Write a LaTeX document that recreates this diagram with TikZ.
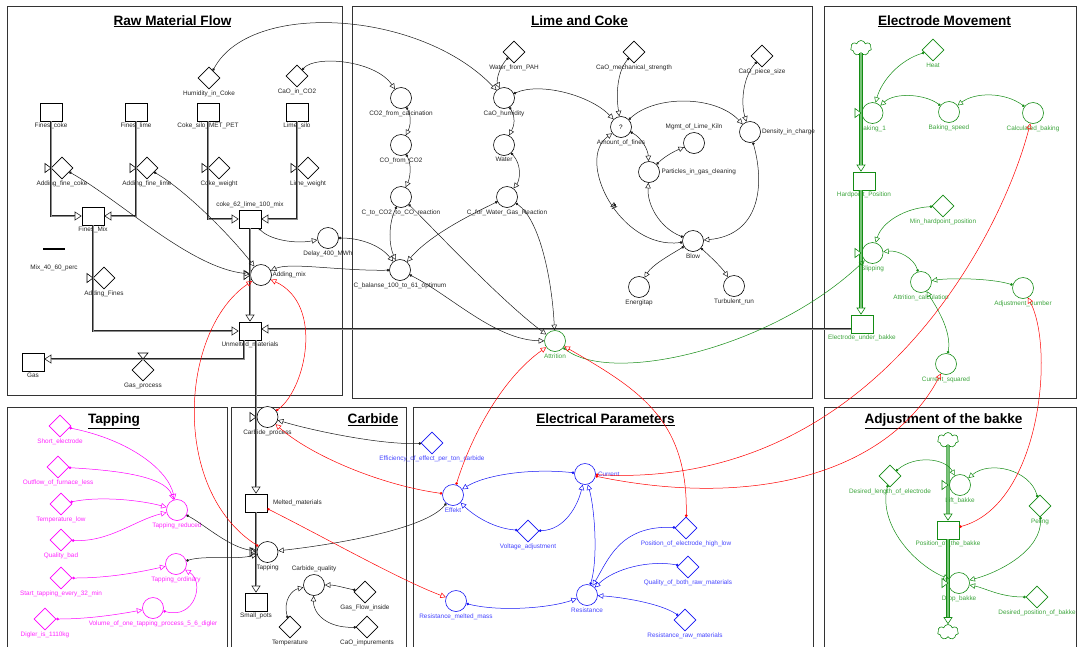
\documentclass[tikz,border=0pt]{standalone}
\usepackage{fontspec}
\setmainfont{Liberation Sans}
\usetikzlibrary{arrows.meta,shapes.geometric,shapes.symbols,calc,decorations.markings}

\definecolor{grn}{RGB}{20,140,20}
\definecolor{grnl}{RGB}{60,165,60}
\definecolor{grnp}{RGB}{120,195,120}
\definecolor{blu}{RGB}{20,20,245}
\definecolor{blul}{RGB}{70,70,255}
\definecolor{mgt}{RGB}{255,0,255}
\definecolor{mgtl}{RGB}{255,40,255}
\definecolor{rd}{RGB}{255,0,0}

\newcommand\labfont{\fontsize{6.4}{7.2}\selectfont}

\begin{document}
\begin{tikzpicture}[x=1pt,y=-1pt,
  every label/.style={font=\labfont, text=black!85, inner sep=0.5pt},
  label distance=1pt,
  aux/.style={circle, draw, fill=white, minimum size=21pt, inner sep=0pt, line width=0.6pt},
  cst/.style={diamond, draw, fill=white, minimum width=22pt, minimum height=22pt, inner sep=0pt, line width=0.6pt},
  stk/.style={rectangle, draw, fill=white, minimum width=22pt, minimum height=18pt, inner sep=0pt, line width=0.6pt},
  cld/.style={cloud, cloud puffs=7, aspect=1.4, draw=grn, fill=white, minimum width=21pt, minimum height=15pt, inner sep=0pt, line width=0.6pt},
  frame/.style={draw=black!80, line width=0.9pt},
  paneltitle/.style={anchor=base, inner sep=0pt, font=\fontsize{13.6}{15}\selectfont\bfseries},
  link/.style={line width=0.5pt, color=black!90, {Circle[length=2.6pt]}-{Triangle[open, length=5.5pt, width=5.5pt]}},
  rlink/.style={link, color=rd},
  glink/.style={link, color=grn},
  blink/.style={link, color=blu},
  mlink/.style={link, color=mgt},
  pipe/.style={line width=2.6pt, draw=black!85, -{Triangle[fill=white, length=7pt, width=9pt, line width=0.6pt]},
    postaction={draw=black!45, line width=0.9pt, -, shorten >=7pt}},
  gpipe/.style={line width=3.4pt, draw=grn, -{Triangle[fill=white, length=7pt, width=9pt, line width=0.6pt]},
    postaction={draw=grnp, line width=1.8pt, -, shorten >=7pt}},
  lg/.style={text=grnl}, lb/.style={text=blul}, lm/.style={text=mgtl},
  g/.style={draw=grn}, b/.style={draw=blu}, m/.style={draw=mgt},
  delaymark/.style={postaction={decorate}, decoration={markings, mark=at position 0.5 with {\draw[line width=0.5pt] (-1.5pt,-3pt) -- (-0.5pt,3pt) (1pt,-3pt) -- (2pt,3pt);}}},
  pics/vr/.style={code={\draw[fill=white, line width=0.6pt] (-6,-4.5) -- (0,0) -- (-6,4.5) -- cycle;}},
  pics/vd/.style={code={\draw[fill=white, line width=0.6pt] (-5,-6) -- (0,0) -- (5,-6) -- cycle;}},
]
\useasboundingbox (0,0) rectangle (1078,646);
\clip (0,0) rectangle (1078,646);
\fill[white] (0,0) rectangle (1078,646);

% ---------- panels ----------
\draw[frame] (7,6) rectangle (342,395);
\draw[frame] (352,6) rectangle (812,398);
\draw[frame] (824,6) rectangle (1076,398);
\draw[frame] (7,407) rectangle (227,660);
\draw[frame] (231,407) rectangle (406,660);
\draw[frame] (413,407) rectangle (813,660);
\draw[frame] (824,407) rectangle (1076,660);

\node[paneltitle] (t1) at (172.5,25) {\underline{Raw Material Flow}};
\node[paneltitle] (t2) at (579.5,25) {\underline{Lime and Coke}};
\node[paneltitle] (t3) at (944.5,25) {\underline{Electrode Movement}};
\node[paneltitle] (t4) at (114,423.5) {\underline{Tapping}};
\node[paneltitle] (t5) at (373,423.5) {\underline{Carbide}};
\node[paneltitle] (t6) at (605.5,423.5) {\underline{Electrical Parameters}};
\node[paneltitle] (t7) at (943.5,423.5) {\underline{Adjustment of the bakke}};

% ---------- raw material flow ----------
\node[stk, label={below:Fines\_coke}] (finescoke) at (51,112) {};
\node[stk, label={below:Fines\_lime}] (fineslime) at (136,112) {};
\node[stk, label={below:Coke\_silo\_MET\_PET}] (cokesilo) at (208,112) {};
\node[stk, label={below:Lime\_silo}] (limesilo) at (297,112) {};
\node[cst, label={below:Humidity\_in\_Coke}] (humcoke) at (209,78) {};
\node[cst, label={below:CaO\_in\_CO2}] (caoco2) at (297,76) {};
\node[cst, label={below:Adding\_fine\_coke}] (addcoke) at (62,168) {};
\node[cst, label={below:Adding\_fine\_lime}] (addlime) at (147,168) {};
\node[cst, label={below:Coke\_weight}] (cokew) at (219,168) {};
\node[cst, label={below:Lime\_weight}] (limew) at (308,168) {};
\node[stk, label={below:Fines\_Mix}] (finesmix) at (93,216) {};
\node[stk, label={above:coke\_62\_lime\_100\_mix}] (cokemix) at (250,219) {};
\node[fill=black, minimum width=22pt, minimum height=1.3pt, inner sep=0pt,
      label={[label distance=14pt]below:Mix\_40\_60\_perc}] (mixline) at (54,249) {};
\node[cst, label={below:Adding\_Fines}] (addfines) at (104,278) {};
\node[aux, label={[label distance=0pt]right:Adding\_mix}] (addmix) at (261,275) {};
\node[aux, label={below:Delay\_400\_MWh}] (delay) at (328,238) {};
\node[stk, label={below:Unmelted\_materials}] (unmelted) at (250,331) {};
\node[stk, label={below:Gas}] (gas) at (33,362) {};
\node[cst, label={below:Gas\_process}] (gasproc) at (143,370) {};

% ---------- lime and coke ----------
\node[cst, label={below:Water\_from\_PAH}] (waterpah) at (514,52) {};
\node[cst, label={below:CaO\_mechanical\_strength}] (caomech) at (634,52) {};
\node[cst, label={below:CaO\_piece\_size}] (caopiece) at (762,56) {};
\node[aux, label={below:CO2\_from\_calcination}] (co2calc) at (401,98) {};
\node[aux, label={below:CaO\_humidity}] (caohum) at (504,98) {};
\node[aux, font=\labfont, label={below:Amount\_of\_fines}] (fines) at (621,127) {?};
\node[aux, label={[label distance=2pt]above:Mgmt\_of\_Lime\_Kiln}] (mgmt) at (694,143) {};
\node[aux, label={right:Particles\_in\_gas\_cleaning}] (particles) at (649,172) {};
\node[aux, label={[label distance=0.5pt]right:Density\_in\_charge}] (density) at (750,132) {};
\node[aux, label={below:CO\_from\_CO2}] (coco2) at (401,145) {};
\node[aux, label={below:Water}] (water) at (504,145) {};
\node[aux, label={below:C\_to\_CO2\_to\_CO\_reaction}] (ctoco) at (401,197) {};
\node[aux, label={below:C\_for\_Water\_Gas\_Reaction}] (cwater) at (507,197) {};
\node[aux, label={below:C\_balanse\_100\_to\_61\_optimum}] (cbal) at (400,270) {};
\node[aux, label={below:Blow}] (blow) at (693,241) {};
\node[aux, label={below:Energitap}] (energitap) at (639,287) {};
\node[aux, label={below:Turbulent\_run}] (turbulent) at (734,286) {};
\node[aux, g, label={[lg]below:Attrition}] (attrition) at (555,341) {};

% ---------- electrode movement ----------
\node[cld] (cloudtop) at (861,48) {};
\node[cst, g, label={[lg]below:Heat}] (heat) at (933,50) {};
\node[aux, g, label={[lg]below:Baking\_1}] (baking1) at (872.5,113) {};
\node[aux, g, label={[lg]below:Baking\_speed}] (bakespeed) at (949,112) {};
\node[aux, g, label={[lg]below:Calculated\_baking}] (calcbaking) at (1033,113) {};
\node[stk, g, label={[lg]below:Hardpoint\_Position}] (hardpoint) at (864,181) {};
\node[cst, g, label={[lg]below:Min\_hardpoint\_position}] (minhard) at (943,206) {};
\node[aux, g, label={[lg]below:Slipping}] (slipping) at (872.5,253) {};
\node[aux, g, label={[lg]below:Attrition\_calculation}] (attcalc) at (921,282) {};
\node[aux, g, label={[lg]below:Adjustment\_number}] (adjnum) at (1023,288) {};
\node[stk, g, label={[lg]below:Electrode\_under\_bakke}] (eub) at (862,324) {};
\node[aux, g, label={[lg]below:Current\_squared}] (cursq) at (946,364) {};

% ---------- adjustment of the bakke ----------
\node[cld] (cloudb1) at (948,440) {};
\node[aux, g, label={[lg]below:Lift\_bakke}] (liftb) at (960,485) {};
\node[stk, g, label={[lg]below:Position\_of\_the\_bakke}] (posb) at (948,530) {};
\node[aux, g, label={[lg]below:Drop\_bakke}] (dropb) at (959,583) {};
\node[cld] (cloudb2) at (948,632) {};
\node[cst, g, label={[lg]below:Desired\_length\_of\_electrode}] (desl) at (890,476) {};
\node[cst, g, label={[lg]below:Peling}] (peling) at (1040,506) {};
\node[cst, g, label={[lg]below:Desired\_position\_of\_bakke}] (despos) at (1037,597) {};

% ---------- tapping ----------
\node[cst, m, label={[lm]below:Short\_electrode}] (shortel) at (60,426) {};
\node[cst, m, label={[lm]below:Outflow\_of\_furnace\_less}] (outflow) at (58,467) {};
\node[cst, m, label={[lm]below:Temperature\_low}] (templow) at (61,504) {};
\node[cst, m, label={[lm]below:Quality\_bad}] (qualbad) at (61,540) {};
\node[cst, m, label={[lm]below:Start\_tapping\_every\_32\_min}] (starttap) at (61,578) {};
\node[cst, m, label={[lm]below:Digler\_is\_1110kg}] (digler) at (45,619) {};
\node[aux, m, label={[lm]below:Tapping\_reduced}] (tapred) at (177,510) {};
\node[aux, m, label={[lm]below:Tapping\_ordinary}] (tapord) at (176,564) {};
\node[aux, m, label={[lm]below:Volume\_of\_one\_tapping\_process\_5\_6\_digler}] (volume) at (153,608) {};

% ---------- carbide ----------
\node[aux, label={below:Carbide\_process}] (carbproc) at (267.5,417) {};
\node[stk, label={[label distance=5pt]right:Melted\_materials}] (melted) at (256,503) {};
\node[aux, label={below:Tapping}] (tapping) at (267.5,552) {};
\node[stk, label={below:Small\_pots}] (smallpots) at (256,602) {};
\node[aux, label={[label distance=2pt]above:Carbide\_quality}] (carbq) at (314,585) {};
\node[cst, label={below:Gas\_Flow\_inside}] (gasflow) at (365,592) {};
\node[cst, label={below:CaO\_impurements}] (caoimp) at (367,627) {};
\node[cst, label={below:Temperature}] (temp) at (290,627) {};

% ---------- electrical parameters ----------
\node[cst, b, label={[lb]below:Efficiency\_of\_effect\_per\_ton\_carbide}] (efficiency) at (432,443) {};
\node[aux, b, label={[lb,label distance=1.5pt]right:Current}] (current) at (585,474) {};
\node[aux, b, label={[lb]below:Effekt}] (effekt) at (453,495) {};
\node[cst, b, label={[lb]below:Voltage\_adjustment}] (voltadj) at (528,531) {};
\node[aux, b, label={[lb]below:Resistance}] (resistance) at (587,595) {};
\node[aux, b, label={[lb]below:Resistance\_melted\_mass}] (resmm) at (456,601) {};
\node[cst, b, label={[lb]below:Position\_of\_electrode\_high\_low}] (poselec) at (686,528) {};
\node[cst, b, label={[lb]below:Quality\_of\_both\_raw\_materials}] (qualboth) at (688,567) {};
\node[cst, b, label={[lb]below:Resistance\_raw\_materials}] (resraw) at (685,620) {};

% ---------- material pipes ----------
\draw[pipe] (finescoke.south) |- (finesmix.west);
\draw[pipe] (fineslime.south) |- (finesmix.east);
\draw[pipe] (cokesilo.south) |- (cokemix.west);
\draw[pipe] (limesilo.south) |- (cokemix.east);
\draw[pipe] (cokemix.south) -- (unmelted.north);
\draw[pipe] (finesmix.south) |- (unmelted.west);
\draw[pipe] ($(unmelted.south)+(-6,0)$) |- ($(gas.east)+(0,-3)$);
\draw[pipe] ($(unmelted.south)+(6,0)$) -- (melted.north);
\draw[pipe] (melted.south) -- (smallpots.north);
\draw[pipe] ($(eub.west)+(0,5)$) -- ($(unmelted.east)+(0,-2)$);
\draw[gpipe] (cloudtop.south) -- (cloudtop.south |- hardpoint.north);
\draw[gpipe] (hardpoint.south -| cloudtop.south) -- (eub.north -| cloudtop.south);
\draw[gpipe] (cloudb1.south) -- (posb.north);
\draw[gpipe] (posb.south) -- (cloudb2.north);

% ---------- valves ----------
\pic at (51,168) {vr};
\pic at (136,168) {vr};
\pic at (208,168) {vr};
\pic at (297,168) {vr};
\pic at (93,278) {vr};
\pic at (250,275) {vr};
\pic at (143,359) {vd};
\pic at (256,417) {vr};
\pic at (256,552) {vr};
\pic[color=grn] at (861,113) {vr};
\pic[color=grn] at (861,253) {vr};
\pic[color=grn] at (948,485) {vr};
\pic[color=grn] at (948,583) {vr};

% ---------- links: raw material flow ----------
\draw[link] (addcoke) .. controls (120,200) and (190,268) .. (addmix);
\draw[link] (addlime) .. controls (185,190) and (230,235) .. (addmix);
\draw[link] (cokemix) .. controls (270,240) and (295,244) .. (delay);
\draw[link] (delay) .. controls (360,238) and (380,245) .. (cbal);
\draw[link] (cbal) .. controls (340,271) and (290,262) .. (addmix);
\draw[link] (humcoke) .. controls (250,0) and (420,10) .. (caohum);
\draw[link] (caoco2) .. controls (315,55) and (375,60) .. (co2calc);

% ---------- links: lime and coke ----------
\draw[link] (waterpah) .. controls (500,66) and (496,80) .. (caohum);
\draw[link] (caohum) .. controls (540,82) and (590,95) .. (fines);
\draw[link] (caohum) .. controls (516,118) and (514,126) .. (water);
\draw[link] (water) .. controls (522,165) and (520,180) .. (cwater);
\draw[link] (co2calc) .. controls (412,117) and (410,127) .. (coco2);
\draw[link] (coco2) .. controls (412,165) and (410,178) .. (ctoco);
\draw[link] (ctoco) .. controls (388,225) and (389,245) .. (cbal);
\draw[link] (cwater) .. controls (470,215) and (430,235) .. (cbal);
\draw[link] (ctoco) .. controls (430,225) and (500,300) .. (attrition);
\draw[link] (cbal) .. controls (450,295) and (495,340) .. (attrition);
\draw[link] (cwater) .. controls (540,220) and (552,280) .. (attrition);
\draw[link] (fines) .. controls (655,95) and (715,95) .. (density);
\draw[link] (caomech) .. controls (617,72) and (616,95) .. (fines);
\draw[link] (caopiece) .. controls (742,78) and (741,105) .. (density);
\draw[link] (fines) .. controls (642,138) and (648,150) .. (particles);
\draw[link] (particles) .. controls (665,156) and (675,151) .. (mgmt);
\draw[link] (density) .. controls (765,185) and (760,235) .. (blow);
\draw[link] (blow) .. controls (660,228) and (647,205) .. (particles);
\draw[link, delaymark] (blow) .. controls (620,250) and (575,160) .. (fines);
\draw[link] (blow) .. controls (670,255) and (652,265) .. (energitap);
\draw[link] (blow) .. controls (712,258) and (722,268) .. (turbulent);

% ---------- links: electrode movement ----------
\draw[glink] (heat) .. controls (900,60) and (882,80) .. (baking1);
\draw[glink] (bakespeed) .. controls (925,94) and (895,92) .. (baking1);
\draw[glink] (calcbaking) .. controls (1005,92) and (975,92) .. (bakespeed);
\draw[glink] (minhard) .. controls (905,208) and (882,222) .. (slipping);
\draw[glink] (attcalc) .. controls (914,258) and (898,250) .. (slipping);
\draw[glink] (adjnum) .. controls (990,278) and (950,278) .. (attcalc);
\draw[glink] (cursq) .. controls (952,330) and (935,305) .. (attcalc);
\draw[glink] (attrition) .. controls (610,385) and (770,350) .. (slipping);

% ---------- links: adjustment of the bakke ----------
\draw[glink] (desl) .. controls (915,455) and (945,458) .. (liftb);
\draw[glink] (desl) .. controls (878,525) and (915,565) .. (dropb);
\draw[glink] (peling) .. controls (1030,470) and (990,460) .. (liftb);
\draw[glink] (peling) .. controls (1042,550) and (1000,572) .. (dropb);
\draw[glink] (despos) .. controls (1000,597) and (985,588) .. (dropb);

% ---------- links: tapping ----------
\draw[mlink] (shortel) .. controls (130,440) and (168,470) .. (tapred);
\draw[mlink] (outflow) .. controls (110,470) and (165,475) .. (tapred);
\draw[mlink] (templow) .. controls (100,496) and (140,500) .. (tapred);
\draw[mlink] (qualbad) .. controls (110,542) and (135,520) .. (tapred);
\draw[mlink] (starttap) .. controls (110,578) and (140,572) .. (tapord);
\draw[mlink] (digler) .. controls (90,619) and (120,614) .. (volume);
\draw[mlink] (volume) .. controls (195,620) and (205,582) .. (tapord);

% ---------- links: carbide ----------
\draw[link] (tapred) .. controls (205,525) and (230,548) .. (tapping);
\draw[link] (tapord) .. controls (205,555) and (235,560) .. (tapping);
\draw[link] (effekt) .. controls (425,530) and (330,545) .. (tapping);
\draw[link] (efficiency) .. controls (380,445) and (310,430) .. (carbproc);
\draw[link] (gasflow) .. controls (345,588) and (335,585) .. (carbq);
\draw[link] (caoimp) .. controls (325,628) and (313,612) .. (carbq);
\draw[link] (temp) .. controls (283,600) and (292,590) .. (carbq);

% ---------- links: electrical parameters ----------
\draw[blink] (current) .. controls (530,468) and (485,475) .. (effekt);
\draw[blink] (voltadj) .. controls (490,528) and (470,512) .. (effekt);
\draw[blink] (voltadj) .. controls (565,530) and (578,505) .. (current);
\draw[blink] (resistance) .. controls (598,560) and (595,510) .. (current);
\draw[blink] (resmm) .. controls (500,612) and (550,608) .. (resistance);
\draw[blink] (poselec) .. controls (620,525) and (608,560) .. (resistance);
\draw[blink] (qualboth) .. controls (650,560) and (615,568) .. (resistance);
\draw[blink] (resraw) .. controls (660,603) and (620,597) .. (resistance);

% ---------- cross-panel links ----------
\draw[rlink] (current) .. controls (870,490) and (1000,240) .. (calcbaking);
\draw[rlink] (current) .. controls (760,510) and (890,470) .. (cursq);
\draw[rlink] (poselec) .. controls (688,420) and (640,390) .. (attrition);
\draw[rlink] (effekt) .. controls (470,440) and (500,380) .. (attrition);
\draw[rlink] (tapping) .. controls (170,490) and (180,330) .. (addmix);
\draw[rlink] (carbproc) .. controls (305,390) and (325,305) .. (addmix);
\draw[rlink] (effekt) .. controls (380,485) and (310,455) .. (carbproc);
\draw[rlink] (melted) .. controls (320,535) and (400,580) .. (resmm);
\draw[rlink] (posb) .. controls (1040,505) and (1055,350) .. (adjnum);
\end{tikzpicture}
\end{document}
